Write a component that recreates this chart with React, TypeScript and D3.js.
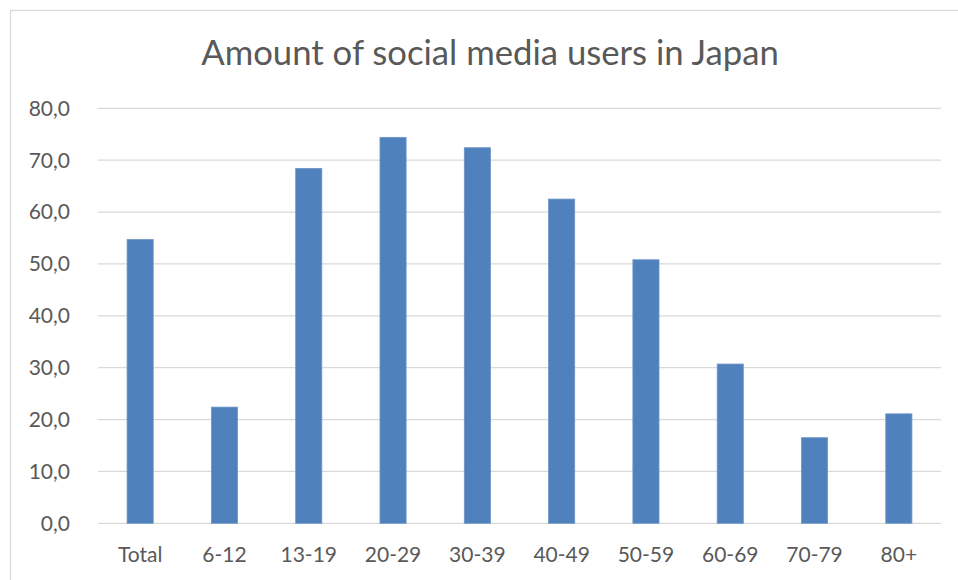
import React from "react";
import * as d3 from "d3";

const categories = ["Total", "6-12", "13-19", "20-29", "30-39", "40-49", "50-59", "60-69", "70-79", "80+"];
const values = [54.7, 22.4, 68.4, 74.4, 72.4, 62.5, 50.8, 30.7, 16.5, 21.1];
const yTicks = [0, 10, 20, 30, 40, 50, 60, 70, 80];
const title = "Amount of social media users in Japan";

const W = 958;
const H = 580;
const left = 98;
const right = 941;
const top = 108.3;
const bottom = 523.3;
const font = "Lato, 'Open Sans', sans-serif";
const textColor = "#595959";

export default function App() {
  const x = d3
    .scaleBand<string>()
    .domain(categories)
    .range([left, right])
    .paddingInner(0.69)
    .paddingOuter(0.345);
  const y = d3.scaleLinear().domain([0, 80]).range([bottom, top]);
  const fmt = (v: number) => v.toFixed(1).replace(".", ",");

  return (
    <svg
      width={W}
      height={H}
      style={{ position: "absolute", left: 0, top: 0, background: "#fff" }}
    >
      <rect x={0} y={0} width={W} height={H} fill="#fff" />
      <rect x={10.5} y={10.5} width={W + 20} height={H + 20} fill="#fff" stroke="#d9d9d9" strokeWidth={1.3} />
      <text
        x={490}
        y={65}
        textAnchor="middle"
        fontFamily={font}
        fontSize={34.7}
        fill={textColor}
      >
        {title}
      </text>
      {yTicks.map((t) => (
        <g key={t}>
          <line x1={left} x2={right} y1={y(t)} y2={y(t)} stroke="#d9d9d9" strokeWidth={1.3} />
          <text
            x={70}
            y={y(t)}
            dy="0.35em"
            textAnchor="end"
            fontFamily={font}
            fontSize={21}
            fill={textColor}
          >
            {fmt(t)}
          </text>
        </g>
      ))}
      {categories.map((c, i) => (
        <g key={c}>
          <rect
            x={x(c)}
            y={y(values[i])}
            width={x.bandwidth()}
            height={y(0) - y(values[i])}
            fill="#4f81bd"
            stroke="#6d95c8"
            strokeWidth={0.8}
          />
          <text
            x={(x(c) as number) + x.bandwidth() / 2}
            y={562}
            textAnchor="middle"
            fontFamily={font}
            fontSize={21}
            fill={textColor}
          >
            {c}
          </text>
        </g>
      ))}
    </svg>
  );
}
